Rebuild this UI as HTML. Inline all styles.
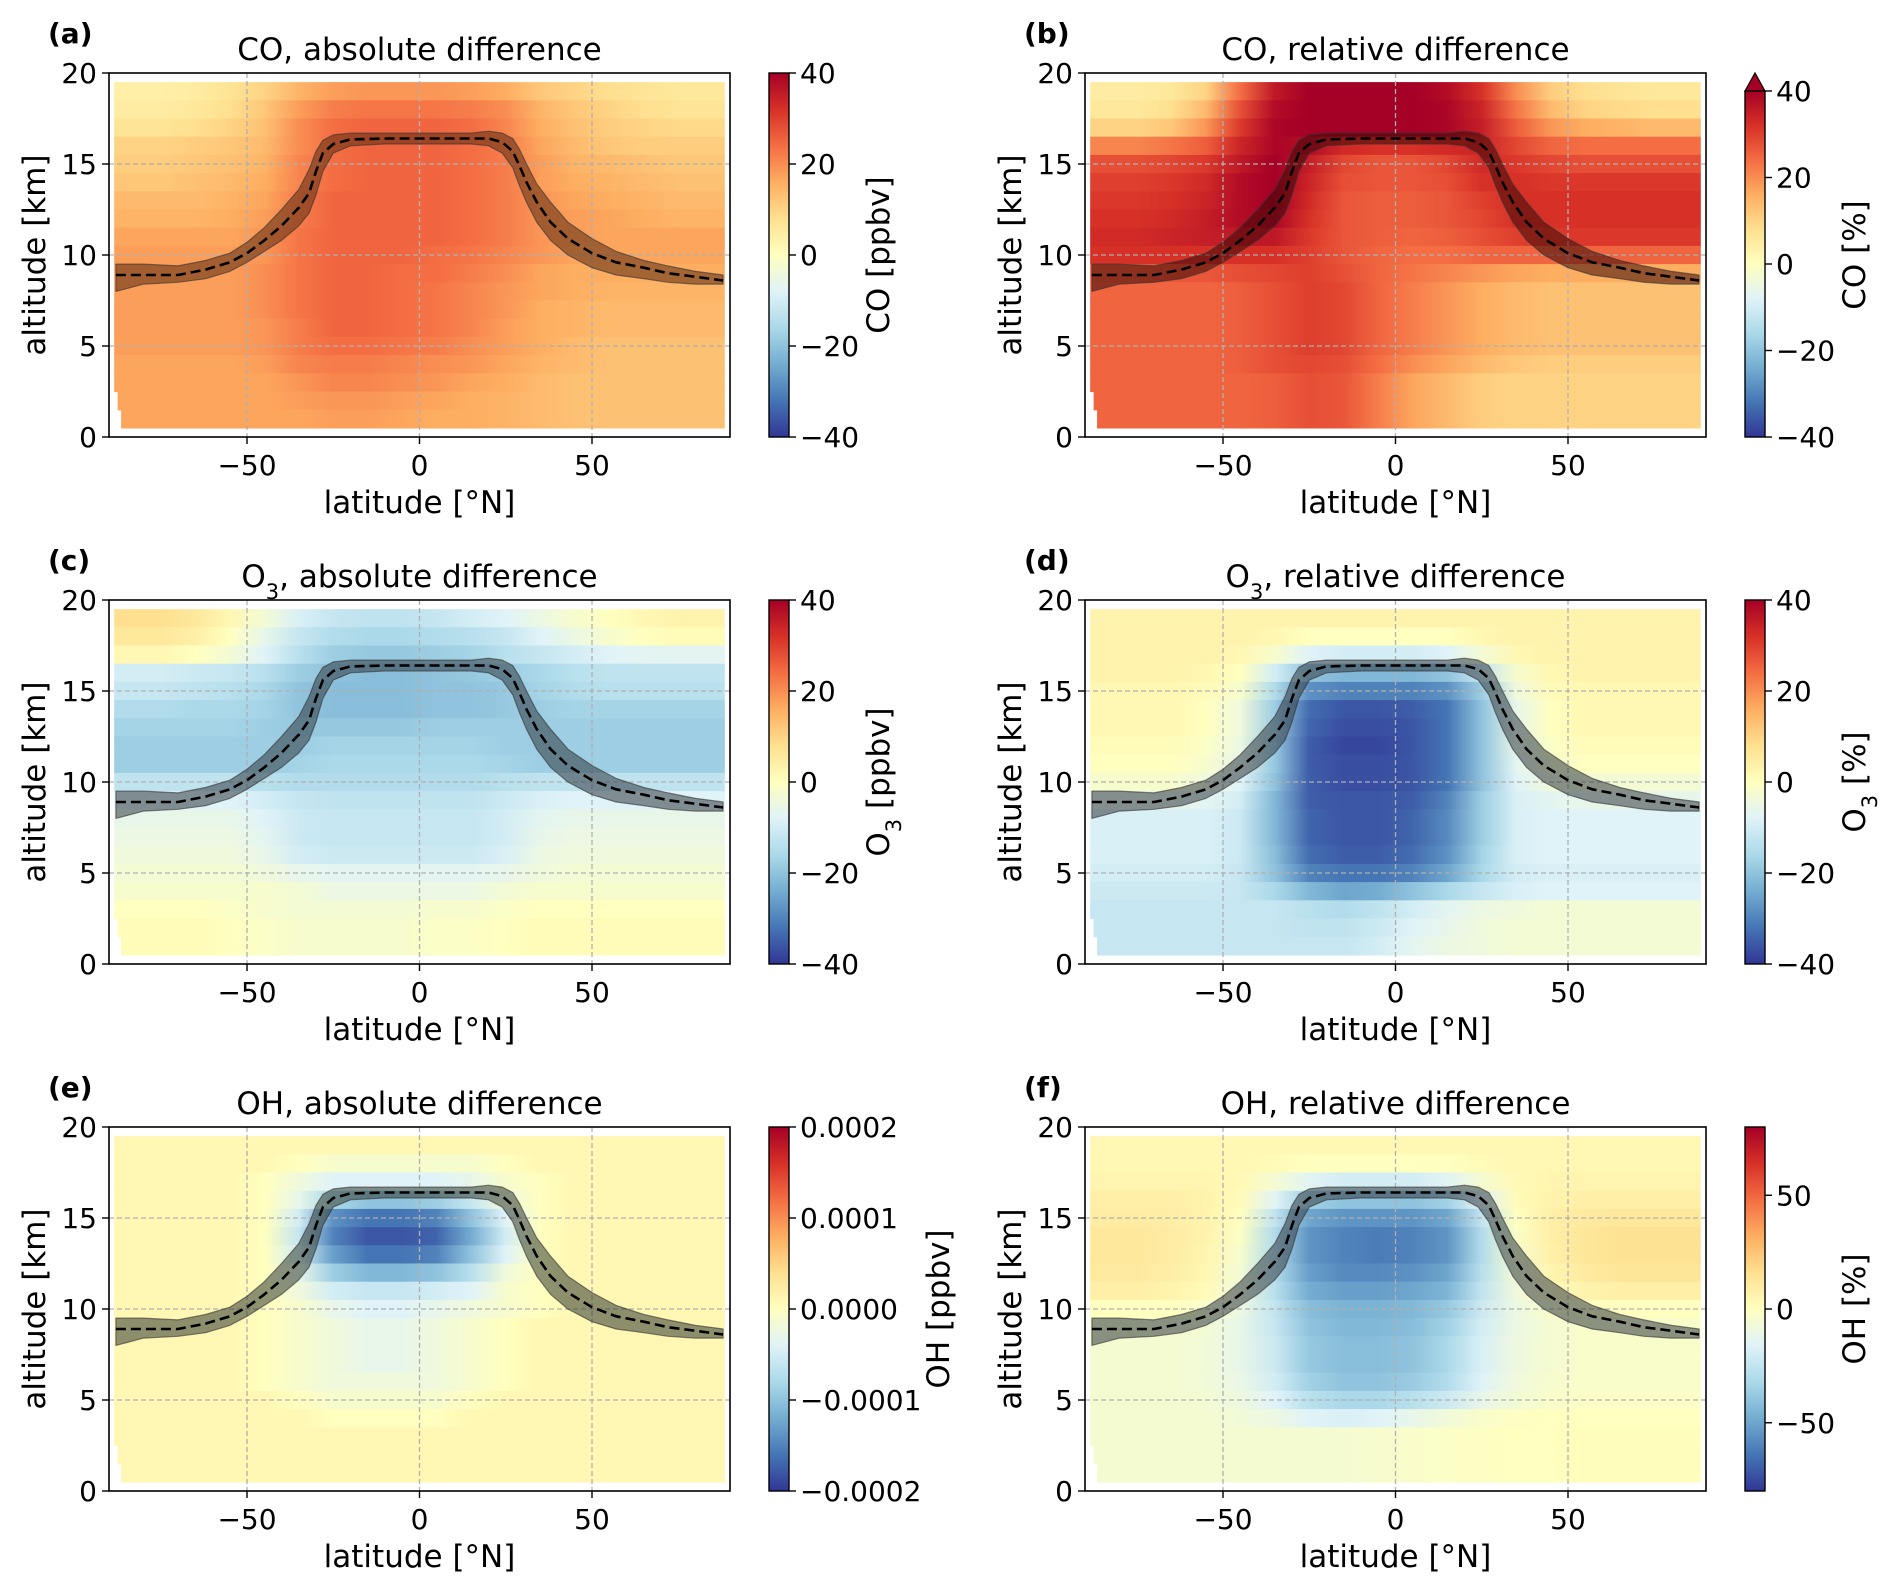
<!DOCTYPE html>
<html><head><meta charset="utf-8">
<style>
html,body{margin:0;padding:0;background:#fff;}
svg{display:block;font-family:"DejaVu Sans","Liberation Sans",sans-serif;}
</style></head>
<body>
<svg id="fig" width="1892" height="1588" viewBox="0 0 1892 1588" xmlns="http://www.w3.org/2000/svg"></svg>
<script>
// ---- data ----
const latCenters = [-85,-75,-65,-55,-45,-35,-25,-15,-5,5,15,25,35,45,55,65,75,85];
const altCenters = [19,18,17,16,15,14,13,12,11,10,9,8,7,6,5,4,3,2,1];
const xTicks = [-50,0,50];
const yTicks = [0,5,10,15,20];
const tpLat = [-88,-80,-70,-62,-55,-50,-45,-40,-35,-32,-30,-28,-25,-20,-10,0,10,15,20,24,27,29,31,34,38,43,50,57,65,72,80,88];
const tpAlt = [8.9,8.9,8.9,9.2,9.6,10.1,10.8,11.6,12.6,13.4,14.6,15.6,16.1,16.35,16.4,16.4,16.4,16.4,16.4,16.2,15.7,14.9,14.0,12.9,11.8,10.9,10.1,9.6,9.3,9.0,8.8,8.6];
const tpUpper = [9.5,9.5,9.4,9.7,10.1,10.7,11.5,12.5,13.6,14.7,15.7,16.3,16.6,16.7,16.7,16.7,16.7,16.7,16.8,16.7,16.4,15.8,15.0,13.9,12.9,11.8,10.9,10.2,9.7,9.4,9.1,8.9];
const tpLower = [8.0,8.4,8.5,8.7,9.1,9.6,10.2,10.8,11.6,12.3,13.3,14.6,15.6,16.0,16.1,16.1,16.1,16.1,16.0,15.6,14.8,13.8,12.9,11.8,10.8,10.0,9.3,8.9,8.7,8.5,8.4,8.4];

const coAbs = [
[4,4,5,7,10,15,18,19,19,19,18,16,12,10,8,7,6,6],
[5,5,6,8,12,18,22,23,23,23,22,20,15,12,10,8,7,7],
[7,7,8,10,13,20,24,25,25,25,24,21,16,13,11,10,9,9],
[10,10,11,12,14,20,24,25,25,25,24,22,17,14,12,11,11,11],
[11,11,12,13,15,21,24,25,25,25,24,22,18,15,14,13,12,12],
[12,12,13,14,16,21,24,25,25,25,24,22,18,16,15,14,13,13],
[14,14,14,15,17,22,25,25,25,25,24,22,19,17,16,15,14,14],
[15,15,15,16,18,22,25,25,25,25,24,22,19,18,17,16,15,15],
[17,17,17,17,19,23,25,25,25,25,24,22,19,18,17,17,17,17],
[18,18,18,18,19,23,25,25,25,24,23,21,19,17,17,17,17,17],
[18,18,18,18,20,23,25,25,24,24,22,20,17,16,16,16,16,16],
[18,18,18,18,20,23,25,25,24,23,21,19,17,16,15,15,15,15],
[18,18,18,18,20,23,25,25,24,23,21,19,16,15,14,14,14,14],
[18,18,18,18,19,22,25,25,24,23,21,18,16,15,14,14,14,14],
[18,18,18,18,19,22,24,24,23,22,20,18,16,14,13,13,13,13],
[17,17,17,17,18,21,22,22,21,20,19,17,15,14,13,13,13,13],
[17,17,17,17,17,19,21,21,20,19,17,16,14,13,13,13,13,13],
[17,17,17,17,17,18,19,19,18,17,16,15,14,13,13,13,13,13],
[17,17,17,17,17,17,18,18,17,16,16,15,14,13,13,13,13,13]];
const coRel = [
[5,5,6,10,24,36,40,40,40,40,38,32,20,11,8,7,6,6],
[6,6,8,14,28,38,40,40,40,40,39,34,23,14,10,9,8,8],
[10,10,12,19,31,39,40,40,40,40,39,35,26,19,16,15,14,14],
[21,21,23,26,34,39,38,33,32,32,33,34,29,25,24,24,24,24],
[28,28,29,31,36,40,35,29,27,27,29,33,31,29,28,28,28,28],
[30,30,31,33,38,40,34,28,27,27,28,32,32,31,31,31,31,31],
[31,31,32,34,38,40,33,27,26,26,27,30,32,32,32,32,32,32],
[32,32,33,35,38,39,32,27,26,26,27,29,32,32,32,32,32,32],
[33,33,34,35,36,36,31,27,26,25,26,28,30,31,31,31,31,31],
[32,32,32,32,32,32,30,27,25,24,24,25,25,25,25,25,25,25],
[26,26,27,27,28,29,30,28,25,23,21,19,17,16,16,16,16,16],
[25,25,25,25,26,28,30,29,25,22,19,16,14,13,13,13,13,13],
[25,25,25,25,26,28,30,29,25,22,19,16,14,13,13,13,13,13],
[25,25,25,25,26,28,30,29,25,22,19,16,14,13,13,13,13,13],
[25,25,25,25,26,28,30,29,25,22,19,16,14,13,13,13,13,13],
[25,25,25,25,26,28,29,28,24,20,17,14,12,11,11,11,11,11],
[25,25,25,25,25,26,28,27,22,17,14,11,10,10,10,10,10,10],
[25,25,25,25,25,26,28,27,22,17,14,11,10,10,10,10,10,10],
[25,25,25,25,25,26,28,27,22,17,14,11,10,10,10,10,10,10]];
const o3Abs = [
[8,8,6,2,-3,-9,-12,-13,-13,-12,-10,-8,-5,-2,0,2,3,3],
[6,6,4,0,-6,-12,-15,-16,-16,-15,-14,-12,-8,-5,-2,0,1,1],
[2,2,0,-3,-8,-14,-18,-19,-19,-18,-17,-14,-12,-10,-8,-7,-7,-7],
[-10,-10,-11,-12,-14,-18,-20,-21,-21,-20,-19,-18,-16,-14,-13,-13,-13,-13],
[-12,-12,-13,-14,-16,-20,-21,-21,-21,-20,-20,-19,-17,-15,-14,-14,-14,-14],
[-15,-15,-16,-16,-17,-20,-21,-21,-21,-20,-20,-19,-18,-17,-17,-17,-17,-17],
[-17,-17,-17,-17,-18,-19,-19,-19,-19,-18,-18,-18,-18,-18,-18,-18,-18,-18],
[-18,-18,-18,-18,-18,-18,-17,-17,-17,-17,-17,-18,-18,-18,-18,-18,-18,-18],
[-18,-18,-18,-18,-18,-17,-16,-16,-16,-16,-16,-17,-18,-18,-18,-18,-18,-18],
[-13,-13,-13,-13,-14,-15,-15,-15,-15,-15,-15,-14,-13,-13,-13,-13,-13,-13],
[-8,-8,-8,-8,-10,-12,-13,-13,-13,-13,-13,-11,-9,-8,-8,-8,-8,-8],
[-6,-6,-6,-6,-8,-11,-12,-12,-12,-12,-12,-10,-7,-6,-6,-6,-6,-6],
[-5,-5,-5,-5,-7,-11,-12,-12,-12,-12,-12,-10,-6,-5,-5,-5,-5,-5],
[-4,-4,-4,-4,-6,-10,-11,-11,-11,-11,-11,-9,-5,-4,-4,-4,-4,-4],
[-3,-3,-3,-3,-4,-6,-7,-7,-7,-7,-7,-6,-4,-3,-3,-3,-3,-3],
[-2,-2,-2,-2,-2,-3,-5,-5,-5,-5,-5,-3,-2,-2,-2,-2,-2,-2],
[0,0,0,-1,-2,-3,-3,-3,-3,-2,-2,-1,0,0,0,0,0,0],
[1,1,1,0,-1,-2,-2,-2,-2,-1,-1,0,1,1,1,1,1,1],
[1,1,1,0,-1,-2,-2,-2,-2,-1,-1,0,1,1,1,1,1,1]];
const o3Rel = [
[3,3,3,3,3,3,3,3,3,3,3,3,3,3,3,3,3,3],
[3,3,3,3,3,2,0,0,0,0,0,2,3,3,3,3,3,3],
[3,3,3,3,2,-2,-8,-10,-10,-10,-8,-3,2,3,3,3,3,3],
[3,3,3,2,0,-10,-20,-22,-22,-22,-20,-12,-2,2,3,3,3,3],
[2,2,2,1,-2,-15,-28,-30,-30,-30,-28,-18,-4,1,2,2,2,2],
[2,2,2,0,-4,-18,-33,-36,-36,-35,-32,-20,-6,0,2,2,2,2],
[2,2,2,0,-4,-18,-34,-37,-37,-36,-32,-20,-6,0,2,2,2,2],
[1,1,1,-1,-5,-19,-35,-38,-38,-36,-32,-20,-6,-1,1,1,1,1],
[0,0,0,-2,-6,-19,-35,-37,-37,-36,-32,-20,-7,-2,0,0,0,0],
[-2,-2,-2,-4,-8,-20,-35,-37,-37,-36,-32,-20,-8,-4,-3,-3,-3,-3],
[-6,-6,-6,-7,-10,-22,-35,-36,-36,-35,-30,-18,-9,-7,-6,-6,-6,-6],
[-9,-9,-9,-9,-11,-22,-34,-36,-36,-34,-29,-18,-9,-8,-8,-8,-8,-8],
[-9,-9,-9,-9,-11,-22,-34,-36,-36,-34,-29,-18,-9,-8,-8,-8,-8,-8],
[-9,-9,-9,-9,-11,-21,-33,-35,-35,-33,-28,-17,-9,-8,-8,-8,-8,-8],
[-10,-10,-10,-10,-12,-20,-30,-32,-32,-30,-25,-16,-10,-9,-9,-9,-9,-9],
[-11,-11,-11,-11,-12,-16,-22,-25,-24,-20,-16,-12,-9,-8,-8,-8,-8,-8],
[-12,-12,-12,-12,-12,-12,-14,-15,-13,-10,-7,-5,-4,-3,-3,-3,-3,-3],
[-12,-12,-12,-12,-12,-12,-13,-13,-11,-8,-6,-4,-3,-3,-3,-3,-3,-3],
[-12,-12,-12,-12,-12,-12,-12,-12,-10,-7,-5,-4,-3,-3,-3,-3,-3,-3]];
// OH absolute in units of 1e-5 ppbv
const ohAbs = [
[1,1,1,1,1,1,1,1,1,1,1,1,1,1,1,1,1,1],
[1,1,1,1,1,0,-1,-1,-1,-1,-1,0,1,1,1,1,1,1],
[1,1,1,1,0,-2,-4,-4,-4,-4,-3,-1,0,1,1,1,1,1],
[1,1,1,1,0,-3,-8,-10,-10,-9,-6,-2,0,1,1,1,1,1],
[1,1,1,1,0,-5,-14,-16,-16,-15,-10,-4,0,1,1,1,1,1],
[1,1,1,1,0,-6,-15,-18,-18,-17,-12,-5,0,1,1,1,1,1],
[1,1,1,1,0,-5,-13,-16,-16,-15,-10,-4,0,1,1,1,1,1],
[1,1,1,1,0,-3,-9,-11,-11,-10,-7,-2,0,1,1,1,1,1],
[1,1,1,1,0,-2,-5,-6,-6,-5,-4,-1,0,1,1,1,1,1],
[1,1,1,1,0,-1,-3,-4,-4,-3,-2,-1,0,1,1,1,1,1],
[1,1,1,1,0,-1,-2,-3,-3,-2,-1,0,1,1,1,1,1,1],
[1,1,1,1,0,-1,-2,-3,-3,-2,-1,0,1,1,1,1,1,1],
[1,1,1,1,0,-1,-2,-3,-3,-2,-1,0,1,1,1,1,1,1],
[1,1,1,1,0,-1,-2,-2,-2,-2,-1,0,1,1,1,1,1,1],
[1,1,1,1,1,0,-1,-1,-1,-1,0,1,1,1,1,1,1,1],
[1,1,1,1,1,1,0,0,0,0,1,1,1,1,1,1,1,1],
[1,1,1,1,1,1,1,1,1,1,1,1,1,1,1,1,1,1],
[1,1,1,1,1,1,1,1,1,1,1,1,1,1,1,1,1,1],
[1,1,1,1,1,1,1,1,1,1,1,1,1,1,1,1,1,1]];
const ohRel = [
[4,4,4,4,4,4,4,4,4,4,4,4,4,4,4,4,4,4],
[4,4,4,4,4,2,0,0,0,0,0,2,4,4,4,4,4,4],
[5,5,5,5,3,-5,-15,-20,-20,-20,-15,-5,3,5,5,5,5,5],
[8,8,8,6,2,-15,-35,-40,-40,-40,-35,-15,2,6,8,8,8,8],
[10,10,9,6,0,-25,-50,-55,-55,-55,-50,-25,0,8,11,12,12,12],
[12,12,10,6,-2,-30,-55,-60,-62,-60,-55,-30,-2,8,13,15,15,15],
[12,12,10,5,-4,-30,-55,-60,-62,-60,-55,-30,-4,7,13,15,15,15],
[11,11,9,4,-6,-30,-52,-58,-58,-56,-50,-28,-6,5,11,13,13,13],
[8,8,6,2,-8,-28,-48,-52,-52,-50,-45,-25,-8,2,6,8,8,8],
[0,0,0,-3,-10,-25,-42,-46,-46,-44,-38,-22,-10,-3,0,0,0,0],
[-4,-4,-5,-6,-12,-24,-40,-44,-44,-42,-35,-20,-10,-5,-3,-3,-3,-3],
[-5,-5,-5,-7,-12,-22,-38,-42,-42,-40,-32,-18,-9,-5,-3,-3,-3,-3],
[-5,-5,-5,-7,-12,-22,-38,-42,-42,-40,-32,-18,-9,-5,-3,-3,-3,-3],
[-5,-5,-5,-7,-11,-20,-35,-40,-40,-37,-30,-16,-8,-4,-3,-3,-3,-3],
[-5,-5,-5,-6,-9,-16,-28,-32,-32,-28,-22,-12,-6,-3,-2,-2,-2,-2],
[-5,-5,-5,-5,-7,-10,-16,-18,-16,-12,-7,-3,-1,0,0,0,0,0],
[-5,-5,-5,-5,-5,-5,-5,-5,-4,-3,-2,-1,0,0,1,1,1,1],
[-5,-5,-5,-5,-5,-5,-5,-5,-4,-3,-2,-1,0,0,1,1,1,1],
[-5,-5,-5,-5,-5,-5,-5,-5,-4,-3,-2,-1,0,0,1,1,1,1]];

// ---- rendering ----
const NS="http://www.w3.org/2000/svg";
const svg=document.getElementById('fig');
function mk(tag,attrs,parent){const e=document.createElementNS(NS,tag);for(const k in attrs)e.setAttribute(k,attrs[k]);(parent||svg).appendChild(e);return e;}
const cmapStops=[[0,[49,54,149]],[0.1,[69,117,180]],[0.2,[116,173,209]],[0.3,[171,217,233]],[0.4,[224,243,248]],[0.5,[255,255,191]],[0.6,[254,224,144]],[0.7,[253,174,97]],[0.8,[244,109,67]],[0.9,[215,48,39]],[1,[165,0,38]]];
function cmap(t){t=Math.max(0,Math.min(1,t));for(let i=1;i<cmapStops.length;i++){if(t<=cmapStops[i][0]){const a=cmapStops[i-1],b=cmapStops[i];const f=(t-a[0])/(b[0]-a[0]);const c=a[1].map((v,j)=>Math.round(v+(b[1][j]-v)*f));return `rgb(${c[0]},${c[1]},${c[2]})`;}}return 'rgb(165,0,38)';}
let gid=0;
const FT=28, FL=31;
function panel(o){
  const X0=o.x,X1=o.x+621,Y0=o.y,Y1=o.y+364;
  const xs=v=>X0+(v+90)/180*(X1-X0);
  const ys=v=>Y1-v/20*(Y1-Y0);
  const g=mk('g',{});
  
  
  const hm=mk('g',{},g);
  
  
  o.data.forEach((row,ri)=>{
    const a=altCenters[ri];
    const id='gr'+(gid++);
    const lg=mk('linearGradient',{id:id,x1:xs(-88.5),x2:xs(88.5),y1:0,y2:0,gradientUnits:'userSpaceOnUse'},hm);
    row.forEach((v,ci)=>{mk('stop',{offset:((latCenters[ci]+88.5)/177).toFixed(4),'stop-color':cmap((v-o.vmin)/(o.vmax-o.vmin))},lg);});
    let left=-88.5; if(a<=1) left=-86.5; else if(a<=2) left=-87.5;
    const r=mk('rect',{x:xs(left),y:ys(a+0.5),width:xs(88.5)-xs(left),height:ys(a-0.5)-ys(a+0.5)+0.6,fill:`url(#${id})`},hm);
    
    
  });
  xTicks.forEach(t=>{const l=mk('line',{x1:xs(t),x2:xs(t),y1:Y0,y2:Y1,stroke:'#b0b0b0','stroke-width':1.3,'stroke-dasharray':'5,3'},g);});
  yTicks.slice(1,4).forEach(t=>{const l=mk('line',{x1:X0,x2:X1,y1:ys(t),y2:ys(t),stroke:'#b0b0b0','stroke-width':1.3,'stroke-dasharray':'5,3'},g);});
  let d='M'+tpLat.map((la,i)=>xs(la).toFixed(1)+','+ys(tpUpper[i]).toFixed(1)).join('L');
  for(let i=tpLat.length-1;i>=0;i--) d+='L'+xs(tpLat[i]).toFixed(1)+','+ys(tpLower[i]).toFixed(1);
  const band=mk('path',{d:d+'Z',fill:o.band,'fill-opacity':0.55,stroke:'#333','stroke-opacity':0.6,'stroke-width':1.2,'stroke-linejoin':'round'},g);
  
  
  const ln=mk('path',{d:'M'+tpLat.map((la,i)=>xs(la).toFixed(1)+','+ys(tpAlt[i]).toFixed(1)).join('L'),fill:'none',stroke:'#000','stroke-width':2.6,'stroke-dasharray':'10,5','stroke-linejoin':'round'},g);
  
  
  const fr=mk('rect',{x:X0,y:Y0,width:X1-X0,height:Y1-Y0,fill:'none',stroke:'#000','stroke-width':1.6},g);
  
  
  xTicks.forEach(t=>{mk('line',{x1:xs(t),x2:xs(t),y1:Y1,y2:Y1+7,stroke:'#000','stroke-width':1.4},g);
    const tx=mk('text',{x:xs(t),y:Y1+38,'font-size':FT,'text-anchor':'middle'},g);tx.textContent=t<0?'\u2212'+(-t):String(t);
    });
  yTicks.forEach(t=>{mk('line',{x1:X0-7,x2:X0,y1:ys(t),y2:ys(t),stroke:'#000','stroke-width':1.4},g);
    const tx=mk('text',{x:X0-12,y:ys(t)+10,'font-size':FT,'text-anchor':'end'},g);tx.textContent=String(t);
    });
  const xl=mk('text',{x:(X0+X1)/2,y:Y1+76,'font-size':FL,'text-anchor':'middle'},g);xl.textContent='latitude [°N]';
  
  const yl=mk('text',{x:0,y:0,'font-size':FL,'text-anchor':'middle',transform:`translate(${X0-64},${(Y0+Y1)/2}) rotate(-90)`},g);yl.textContent='altitude [km]';
  
  const ti=mk('text',{x:(X0+X1)/2,y:Y0-13,'font-size':FL,'text-anchor':'middle'},g);ti.innerHTML=o.title;
  
  const pl=mk('text',{x:X0-61,y:Y0-30,'font-size':28,'font-weight':'bold'},g);pl.textContent=o.label;
  
  const cx=X0+660,cw=20,cy0=o.extend?Y0+18:Y0,cy1=Y1;
  const cb=mk('g',{},g);
  
  
  const id='cb'+(gid++);
  const lg=mk('linearGradient',{id:id,x1:0,x2:0,y1:1,y2:0},cb);
  cmapStops.forEach(s=>mk('stop',{offset:s[0],'stop-color':cmap(s[0])},lg));
  mk('rect',{x:cx,y:cy0,width:cw,height:cy1-cy0,fill:`url(#${id})`,stroke:'#000','stroke-width':1.4},cb);
  if(o.extend){const tri=mk('path',{d:`M${cx},${cy0}L${cx+cw/2},${Y0}L${cx+cw},${cy0}Z`,fill:'rgb(165,0,38)',stroke:'#000','stroke-width':1.2},cb);
    }
  o.cticks.forEach((t,i)=>{const yy=cy1-(t-o.vmin)/(o.vmax-o.vmin)*(cy1-cy0);
    mk('line',{x1:cx+cw,x2:cx+cw+7,y1:yy,y2:yy,stroke:'#000','stroke-width':1.4},cb);
    const tx=mk('text',{x:cx+cw+11,y:yy+10,'font-size':FT},cb);tx.textContent=o.clabels[i];
    });
  const clx=cx+cw+o.cloff;
  const cl=mk('text',{x:0,y:0,'font-size':FL,'text-anchor':'middle',transform:`translate(${clx},${(Y0+Y1)/2}) rotate(-90)`},cb);cl.innerHTML=o.clabel;
  
}
const ct40=[-40,-20,0,20,40], cl40=['\u221240','\u221220','0','20','40'];
const LX=109,RX=1085,R1=73,R2=600,R3=1127;
const SUB='<tspan baseline-shift="sub" font-size="21">3</tspan>';
panel({name:'panel-a',x:LX,y:R1,data:coAbs,vmin:-40,vmax:40,cticks:ct40,clabels:cl40,title:'CO, absolute difference',label:'(a)',band:'#5a2a10',clabel:'CO [ppbv]',cloff:100});
panel({name:'panel-b',x:RX,y:R1,data:coRel,vmin:-40,vmax:40,cticks:ct40,clabels:cl40,title:'CO, relative difference',label:'(b)',band:'#3a0a05',clabel:'CO [%]',cloff:100,extend:true});
panel({name:'panel-c',x:LX,y:R2,data:o3Abs,vmin:-40,vmax:40,cticks:ct40,clabels:cl40,title:'O'+SUB+', absolute difference',label:'(c)',band:'#303840',clabel:'O'+SUB+' [ppbv]',cloff:100});
panel({name:'panel-d',x:RX,y:R2,data:o3Rel,vmin:-40,vmax:40,cticks:ct40,clabels:cl40,title:'O'+SUB+', relative difference',label:'(d)',band:'#303840',clabel:'O'+SUB+' [%]',cloff:100});
panel({name:'panel-e',x:LX,y:R3,data:ohAbs,vmin:-20,vmax:20,cticks:[-20,-10,0,10,20],clabels:['\u22120.0002','\u22120.0001','0.0000','0.0001','0.0002'],title:'OH, absolute difference',label:'(e)',band:'#303830',clabel:'OH [ppbv]',cloff:160});
panel({name:'panel-f',x:RX,y:R3,data:ohRel,vmin:-80,vmax:80,cticks:[-50,0,50],clabels:['\u221250','0','50'],title:'OH, relative difference',label:'(f)',band:'#303840',clabel:'OH [%]',cloff:100});
</script>
</body></html>
